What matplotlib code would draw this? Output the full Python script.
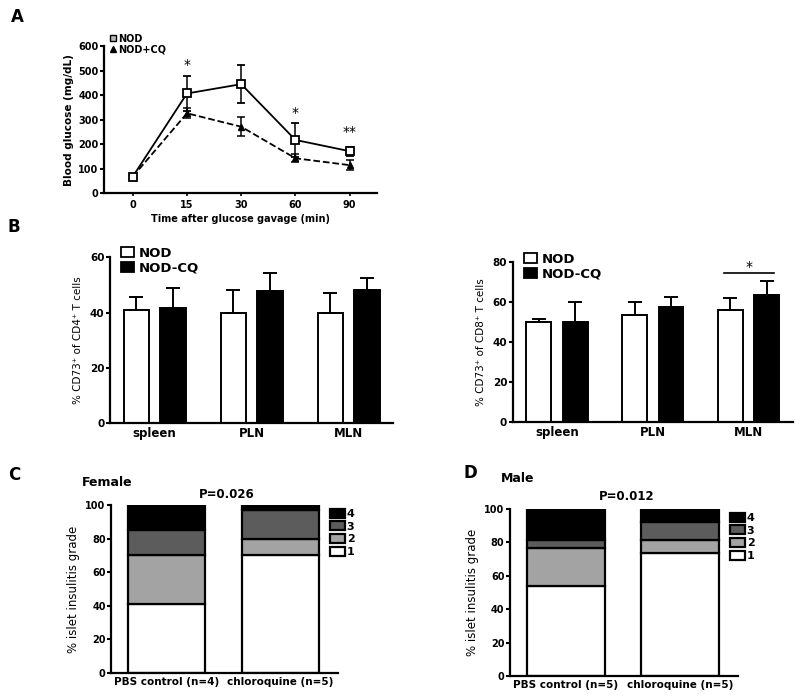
import numpy as np
import matplotlib.pyplot as plt
from matplotlib.lines import Line2D
from matplotlib.patches import Patch

plt.rcParams['font.family'] = ['DejaVu Sans']
plt.rcParams['font.size'] = 7.5

# -----------------------------
# data
# -----------------------------
glucose_time = ['0', '15', '30', '60', '90']
nod_glucose = [68, 408, 446, 218, 172]
nod_glucose_err = [8, 72, 78, 68, 18]
cq_glucose = [68, 327, 272, 143, 115]
cq_glucose_err = [6, 21, 38, 17, 20]
glucose_stars = ['', '*', '', '*', '**']
glucose_star_y = [0, 495, 0, 300, 222]

tissues = ['spleen', 'PLN', 'MLN']
cd4_nod = [41.1, 40.0, 40.0]
cd4_nod_err = [4.6, 8.2, 7.0]
cd4_cq = [41.7, 47.7, 48.2]
cd4_cq_err = [7.1, 6.7, 4.4]
cd8_nod = [49.7, 53.2, 55.7]
cd8_nod_err = [1.6, 6.8, 6.3]
cd8_cq = [49.7, 57.5, 63.5]
cd8_cq_err = [10.3, 4.8, 6.7]

grades = ['1', '2', '3', '4']
grade_colors = ['white', '#a3a3a3', '#5c5c5c', 'black']
female_groups = ['PBS control (n=4)', 'chloroquine (n=5)']
female_grades = [[41, 70], [29, 10], [15, 17], [15, 3]]
male_groups = ['PBS control (n=5)', 'chloroquine (n=5)']
male_grades = [[54, 73.5], [22.5, 8], [5, 10.5], [18.5, 8]]

fig = plt.figure(figsize=(8, 6.97), dpi=100)


def style_axes(ax, ysize=7.5, xsize=8.5):
    for s in ['top', 'right']:
        ax.spines[s].set_visible(False)
    for s in ['left', 'bottom']:
        ax.spines[s].set_linewidth(1.6)
    ax.tick_params(axis='y', length=3, width=1.5, pad=1, labelsize=ysize)
    ax.tick_params(axis='x', length=0, pad=3, labelsize=xsize)
    for lab in ax.get_yticklabels() + ax.get_xticklabels():
        lab.set_fontweight('bold')


# -----------------------------
# A: glucose tolerance
# -----------------------------
axA = fig.add_axes([0.13, 0.7227, 0.341, 0.2106])
x = np.arange(len(glucose_time))
axA.errorbar(x, nod_glucose, yerr=nod_glucose_err, color='black', lw=1.3,
             marker='s', mfc='white', mec='black', ms=6, mew=1.3,
             capsize=3, elinewidth=1.1, capthick=1.1, zorder=3)
axA.errorbar(x, cq_glucose, yerr=cq_glucose_err, color='black', lw=1.3, ls='--',
             marker='^', mfc='black', mec='black', ms=5,
             capsize=3, elinewidth=1.1, capthick=1.1, zorder=2)
for xi, s, y in zip(x, glucose_stars, glucose_star_y):
    if s:
        axA.text(xi, y, s, ha='center', va='bottom', fontsize=10)
axA.set_xlim(-0.53, 4.5)
axA.set_ylim(0, 600)
axA.set_yticks(range(0, 601, 100))
axA.set_xticks(x)
axA.set_xticklabels(glucose_time)
style_axes(axA, ysize=7, xsize=7)
axA.tick_params(axis='x', length=2, width=1.2)
axA.set_ylabel('Blood glucose (mg/dL)', fontweight='bold', fontsize=7.5, labelpad=3)
axA.set_xlabel('Time after glucose gavage (min)', fontweight='bold', fontsize=7, labelpad=3)
handlesA = [Line2D([], [], ls='none', marker='s', mfc='#bbbbbb', mec='black', ms=5, label='NOD'),
            Line2D([], [], ls='none', marker='^', mfc='black', mec='black', ms=4, label='NOD+CQ')]
axA.legend(handles=handlesA, loc='upper left', bbox_to_anchor=(105 / 800, 1 - 29 / 697),
           bbox_transform=fig.transFigure, frameon=False, handlelength=0.6,
           handletextpad=0.3, labelspacing=0.05, borderpad=0,
           prop={'weight': 'bold', 'size': 7})


# -----------------------------
# B: CD73 bars
# -----------------------------
def bar_panel(rect, nod, nod_err, cq, cq_err, ymax, ylabel, leg_xy):
    ax = fig.add_axes(rect)
    xb = np.arange(len(tissues))
    w = 0.26
    off = 0.19
    ax.bar(xb - off, nod, w, color='white', edgecolor='black', lw=1.4,
           yerr=[np.zeros(len(nod)), nod_err],
           error_kw=dict(ecolor='black', elinewidth=1.4, capsize=5, capthick=1.4))
    ax.bar(xb + off, cq, w, color='black', edgecolor='black', lw=1.4,
           yerr=[np.zeros(len(cq)), cq_err],
           error_kw=dict(ecolor='black', elinewidth=1.4, capsize=5, capthick=1.4))
    ax.set_xlim(-0.46, 2.46)
    ax.set_ylim(0, ymax)
    ax.set_yticks(range(0, ymax + 1, 20))
    ax.set_xticks(xb)
    ax.set_xticklabels(tissues)
    style_axes(ax, ysize=7.5, xsize=8.5)
    ax.set_ylabel(ylabel, fontsize=7.5, labelpad=5)
    handles = [Patch(facecolor='white', edgecolor='black', lw=1.3, label='NOD'),
               Patch(facecolor='black', edgecolor='black', lw=1.3, label='NOD-CQ')]
    ax.legend(handles=handles, loc='upper left', bbox_to_anchor=leg_xy,
              bbox_transform=fig.transFigure, frameon=False, handlelength=1.0,
              handleheight=0.8, handletextpad=0.35, labelspacing=0.15, borderpad=0,
              prop={'weight': 'bold', 'size': 9.5})
    return ax


axB1 = bar_panel([0.1375, 0.3931, 0.354, 0.2377], cd4_nod, cd4_nod_err, cd4_cq, cd4_cq_err,
                 60, '% CD73\u207a of CD4\u207a T cells', (114 / 800, 1 - 240 / 697))
axB2 = bar_panel([0.641, 0.3945, 0.35, 0.23], cd8_nod, cd8_nod_err, cd8_cq, cd8_cq_err,
                 80, '% CD73\u207a of CD8\u207a T cells', (517 / 800, 1 - 246 / 697))
axB2.plot([2 - 0.26, 2 + 0.26], [74.5, 74.5], color='black', lw=1.2)
axB2.text(2, 74.0, '*', ha='center', va='bottom', fontsize=10)


# -----------------------------
# C / D: insulitis grade
# -----------------------------
def stack_panel(rect, groups, values, title, ptext, title_xy, p_xy, leg_xy):
    ax = fig.add_axes(rect)
    xs = np.arange(len(groups))
    bottom = np.zeros(len(groups))
    for vals, col, g in zip(values, grade_colors, grades):
        ax.bar(xs, vals, 0.68, bottom=bottom, color=col, edgecolor='black', lw=1.6, label=g)
        bottom += np.array(vals)
    ax.set_xlim(-0.49, 1.51)
    ax.set_ylim(0, 100)
    ax.set_yticks(range(0, 101, 20))
    ax.set_xticks(xs)
    ax.set_xticklabels(groups)
    style_axes(ax, ysize=7, xsize=7.5)
    ax.set_ylabel('% islet insulitis grade', fontsize=8.5, labelpad=4)
    h, l = ax.get_legend_handles_labels()
    ax.legend(h[::-1], l[::-1], loc='upper left', bbox_to_anchor=leg_xy,
              bbox_transform=fig.transFigure, frameon=False, handlelength=1.4,
              handleheight=0.9, handletextpad=0.15, labelspacing=0.2, borderpad=0,
              prop={'weight': 'bold', 'size': 8})
    fig.text(title_xy[0], title_xy[1], title, ha='center', va='center',
             fontsize=9, fontweight='bold')
    fig.text(p_xy[0], p_xy[1], ptext, ha='center', va='center',
             fontsize=8.5, fontweight='bold')
    return ax


stack_panel([0.139, 0.0344, 0.284, 0.241], female_groups, female_grades, 'Female', 'P=0.026',
            (107 / 800, 1 - 482 / 697), (227 / 800, 1 - 494 / 697), (324 / 800, 1 - 503 / 697))
stack_panel([0.6375, 0.0301, 0.285, 0.2396], male_groups, male_grades, 'Male', 'P=0.012',
            (518 / 800, 1 - 479 / 697), (627 / 800, 1 - 497 / 697), (724 / 800, 1 - 507 / 697))

# panel letters
for lab, px, py in [('A', 17, 17), ('B', 14, 227), ('C', 14, 475), ('D', 470, 473)]:
    fig.text(px / 800, 1 - py / 697, lab, ha='center', va='center', fontsize=12, fontweight='bold')

fig.savefig('out.png', dpi=100)
